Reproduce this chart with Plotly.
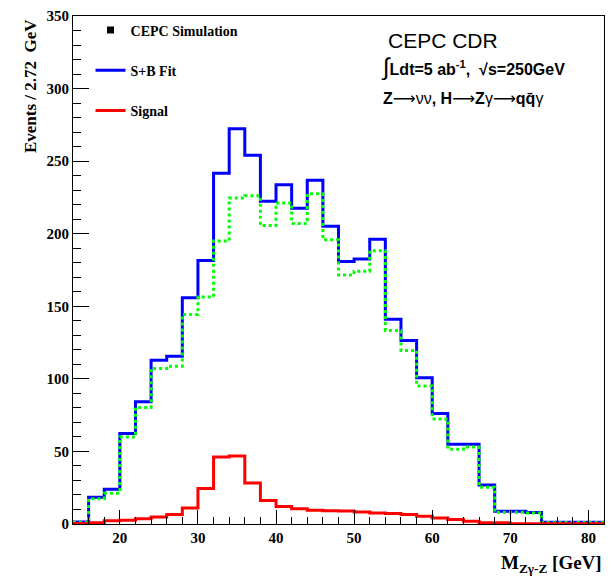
import plotly.graph_objects as go

# ---- data ----
bin_edges = [14, 16, 18, 20, 22, 24, 26, 28, 30, 32, 34, 36, 38, 40, 42, 44, 46, 48,
             50, 52, 54, 56, 58, 60, 62, 64, 66, 68, 70, 72, 74, 76, 78, 80, 82]
sb_fit = [1.3, 18.5, 24.0, 62.4, 84.2, 112.8, 115.5, 155.8, 181.5, 241.6, 272.3, 254.1,
          222.3, 233.7, 217.6, 236.9, 205.2, 180.8, 182.6, 196.2, 141.0, 126.5, 100.8,
          76.2, 54.9, 54.9, 26.9, 8.7, 8.7, 8.0, 1.2, 1.2, 1.2, 1.2]
background = [1.2, 17.4, 21.2, 59.9, 80.3, 107.2, 108.7, 144.4, 156.4, 195.0, 224.6, 226.2,
              205.7, 221.2, 207.1, 227.5, 195.8, 171.6, 174.2, 188.3, 133.3, 119.6, 95.1,
              72.4, 51.5, 53.0, 25.4, 8.1, 8.1, 7.6, 1.1, 1.1, 1.1, 1.1]
signal = [0.3, 0.8, 2.2, 2.6, 3.7, 4.9, 6.5, 11.0, 24.4, 46.2, 46.9, 28.3, 16.2, 12.1,
          10.5, 9.4, 9.1, 9.0, 8.3, 7.6, 7.2, 6.5, 5.3, 4.2, 3.1, 1.9, 0.8, 0.8, 0.2, 0.2,
          0.2, 0.2, 0.2, 0.2]
x_ticks = [20, 30, 40, 50, 60, 70, 80]
y_ticks = [0, 50, 100, 150, 200, 250, 300, 350]

SERIF = "Liberation Serif"
SANS = "Liberation Sans"


def step(vals):
    return list(vals) + [vals[-1]]


fig = go.Figure()

# histograms
fig.add_trace(go.Scatter(x=bin_edges, y=step(sb_fit), mode="lines", line_shape="hv",
                         line=dict(color="#0000ff", width=3), showlegend=False,
                         hoverinfo="skip"))
fig.add_trace(go.Scatter(x=bin_edges, y=step(background), mode="lines", line_shape="hv",
                         line=dict(color="#00ff00", width=3, dash="dot"), showlegend=False,
                         hoverinfo="skip"))
fig.add_trace(go.Scatter(x=bin_edges, y=step(signal), mode="lines", line_shape="hv",
                         line=dict(color="#ff0000", width=3), showlegend=False,
                         hoverinfo="skip"))

# legend entries
fig.add_trace(go.Scatter(x=[None], y=[None], mode="markers", name="CEPC Simulation",
                         marker=dict(symbol="square", color="black", size=7),
                         legendgroup="a", showlegend=True))
fig.add_trace(go.Scatter(x=[None], y=[None], mode="lines", name="S+B Fit",
                         line=dict(color="#0000ff", width=3), legendgroup="b",
                         showlegend=True))
fig.add_trace(go.Scatter(x=[None], y=[None], mode="lines", name="Signal",
                         line=dict(color="#ff0000", width=3), legendgroup="c",
                         showlegend=True))

tickfont = dict(family=SERIF, size=15, color="black", weight="bold")

fig.update_xaxes(range=[14, 82], tickvals=x_ticks, ticks="inside", ticklen=14,
                 tickwidth=1, tickcolor="black", showline=True, linecolor="black",
                 linewidth=1, mirror=True, showgrid=False, zeroline=False,
                 tickfont=tickfont,
                 minor=dict(dtick=2, tick0=0, ticks="inside", ticklen=7,
                            tickcolor="black", tickwidth=1, showgrid=False))
fig.update_yaxes(range=[0, 350], tickvals=y_ticks, ticks="inside", ticklen=16,
                 tickwidth=1, tickcolor="black", showline=True, linecolor="black",
                 linewidth=1, mirror=True, showgrid=False, zeroline=False,
                 tickfont=tickfont,
                 minor=dict(dtick=10, tick0=0, ticks="inside", ticklen=8,
                            tickcolor="black", tickwidth=1, showgrid=False))

ARW = "<span style='font-family:DejaVu Sans;font-weight:normal'>\u27f6</span>"
NRM = "<span style='font-weight:normal'>{}</span>"

annotations = [
    dict(text="Events / 2.72  GeV", xref="paper", yref="paper", x=-0.08, y=0.997,
         xanchor="center", yanchor="top", textangle=-90, showarrow=False,
         font=dict(family=SERIF, size=17, color="black", weight="bold")),
    dict(text="M<sub>Zγ-Z</sub> [GeV]", xref="paper", yref="paper", x=1.0, y=-0.052,
         xanchor="right", yanchor="top", showarrow=False,
         font=dict(family=SERIF, size=19, color="black", weight="bold")),
    dict(text="CEPC CDR", xref="paper", yref="paper", x=0.589, y=0.952,
         xanchor="left", yanchor="middle", showarrow=False,
         font=dict(family=SANS, size=21, color="black")),
    dict(text="<span style='font-size:24px;font-weight:normal'>∫</span>Ldt=5 ab<sup>-1</sup>,  √s=250GeV",
         xref="paper", yref="paper", x=0.577, y=0.9,
         xanchor="left", yanchor="middle", showarrow=False,
         font=dict(family=SANS, size=16, color="black", weight="bold")),
    dict(text="Z" + ARW + NRM.format("νν") + ", H" + ARW + "Z" + NRM.format("γ") + ARW
         + "qq\u0304" + NRM.format("γ"),
         xref="paper", yref="paper", x=0.58, y=0.838,
         xanchor="left", yanchor="middle", showarrow=False,
         font=dict(family=SANS, size=16, color="black", weight="bold")),
]

fig.update_layout(
    width=613, height=579,
    margin=dict(l=73, r=8, t=11, b=55),
    paper_bgcolor="white", plot_bgcolor="white",
    annotations=annotations,
    legend=dict(x=0.033, y=1.003, xanchor="left", yanchor="top",
                bgcolor="rgba(0,0,0,0)", borderwidth=0,
                tracegroupgap=19, itemwidth=30,
                font=dict(family=SERIF, size=14, color="black", weight="bold")),
)

fig.write_html("out.html")
